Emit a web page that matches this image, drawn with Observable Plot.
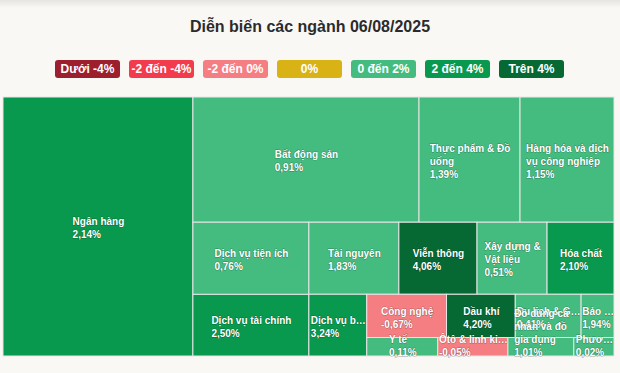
<!DOCTYPE html>
<html><head><meta charset="utf-8">
<script src="https://cdn.jsdelivr.net/npm/d3@7"></script>
<script src="https://cdn.jsdelivr.net/npm/@observablehq/plot@0.6"></script>
<style>
html,body{margin:0;padding:0;background:#faf8f5;}
body{width:620px;height:373px;position:relative;overflow:hidden;font-family:"Liberation Sans",Arial,Helvetica,sans-serif;}
#shade{position:absolute;left:0;top:0;width:620px;height:8px;background:linear-gradient(rgba(0,0,0,0.08),rgba(0,0,0,0));}
#title{position:absolute;left:0;top:17px;width:620px;text-align:center;font-size:16px;font-weight:bold;color:#2b2b2b;line-height:20px;}
#legend{position:absolute;left:55px;top:60px;display:flex;gap:9px;}
.lg{width:65px;height:18px;border-radius:3px;color:#fff;font-size:12px;font-weight:bold;text-align:center;line-height:18px;white-space:nowrap;}
#chart{position:absolute;left:0;top:90px;}
</style></head>
<body>
<div id="shade"></div>
<div id="title">Diễn biến các ngành 06/08/2025</div>
<div id="legend"></div>
<div id="chart"></div>
<script>
// Sectors (in drawing order), weights and daily change (%)
const nganh = [
  "Ngân hàng","Bất động sản","Thực phẩm & Đồ uống","Hàng hóa và dịch vụ công nghiệp",
  "Dịch vụ tiện ích","Dịch vụ tài chính","Tài nguyên","Viễn thông","Xây dựng & Vật liệu",
  "Hóa chất","Dịch\u00a0vụ\u00a0bán\u00a0lẻ","Công nghệ","Dầu khí","Du\u00a0lịch\u00a0&\u00a0Giải\u00a0trí",
  "Bảo\u00a0hiểm","Y tế","Ôtô\u00a0&\u00a0linh\u00a0kiện\u00a0phụ\u00a0tùng","Đồ dùng cá nhân và đồ gia dụng",
  "Phương\u00a0tiện\u00a0truyền\u00a0thông"
];
const tyTrong = [31.1,17.9,8.0,7.44,5.29,4.52,4.1,3.56,3.19,3.05,2.26,2.18,1.88,1.8,0.9,0.83,0.82,0.77,0.47];
const thayDoi = [2.14,0.91,1.39,1.15,0.76,2.50,1.83,4.06,0.51,2.10,3.24,-0.67,4.20,0.41,1.94,0.11,-0.05,1.01,0.02];

// Legend groups
const nhomNhan = ["Dưới -4%","-2 đến -4%","-2 đến 0%","0%","0 đến 2%","2 đến 4%","Trên 4%"];
const nhomMau  = ["#9d1e2c","#f23b4c","#f57e82","#d9b316","#44bc7f","#08994e","#066934"];

function nhomOf(c){
  if (c < -4) return 0;
  if (c < -2) return 1;
  if (c < 0) return 2;
  if (c === 0) return 3;
  if (c <= 2) return 4;
  if (c <= 4) return 5;
  return 6;
}

// legend
const lg = document.getElementById("legend");
nhomNhan.forEach((t,i)=>{
  const d = document.createElement("div");
  d.className = "lg"; d.style.background = nhomMau[i]; d.textContent = t;
  lg.appendChild(d);
});

// squarified layout with alternating direction
function squarified(values, W, H){
  const total = d3.sum(values);
  const out = [];
  const plot = {x:0, y:0};
  const g = {height:H, width:W, direction:0, total:0, nW:0, lW:0, nH:0, lH:0, elArr:[],
             lP:{total:0, lH:0, nH:0, lW:0, nW:0, nR:0, lR:0}};
  const ar = (w,h)=>Math.max(w/h, h/w);
  function add(el){
    g.lP.total = g.elArr[g.elArr.length-1];
    g.total += el;
    if (g.direction === 0){
      g.lW = g.nW; g.lP.lH = g.lP.total/g.lW; g.lP.lR = ar(g.lW, g.lP.lH);
      g.nW = g.total/g.height; g.lP.nH = g.lP.total/g.nW; g.lP.nR = ar(g.nW, g.lP.nH);
    } else {
      g.lH = g.nH; g.lP.lW = g.lP.total/g.lH; g.lP.lR = ar(g.lP.lW, g.lH);
      g.nH = g.total/g.width; g.lP.nW = g.lP.total/g.nH; g.lP.nR = ar(g.lP.nW, g.nH);
    }
    g.elArr.push(el);
  }
  function calc(last){
    let gW = g.lW, gH = g.lH, keep;
    if (last){ gW = g.nW; gH = g.nH; } else keep = g.elArr[g.elArr.length-1];
    const end = g.elArr.length-1;
    g.elArr.forEach((p,i)=>{
      if (last || i < end){
        let pW, pH;
        if (g.direction === 0){ pW = gW; pH = p/pW; } else { pH = gH; pW = p/pH; }
        out.push({x:plot.x, y:plot.y, w:pW, h:pH});
        if (g.direction === 0) plot.y += pH; else plot.x += pW;
      }
    });
    g.nW = 0; g.lW = 0; g.elArr = []; g.total = 0;
    if (g.direction === 0) g.width -= gW; else g.height -= gH;
    plot.y = H - g.height;
    plot.x = W - g.width;
    g.direction = 1 - g.direction;
    if (!last) add(keep);
  }
  values.forEach((v,i)=>{
    add(W*H*v/total);
    if (g.lP.nR > g.lP.lR) calc(false);
    if (i === values.length-1) calc(true);
  });
  return out;
}

const xRange = [3, 614], yRange = [7, 266];
const ratio = (xRange[1]-xRange[0])/(yRange[1]-yRange[0]);
const rects = squarified(tyTrong, 100*ratio, 100);
const fmt = v => v.toFixed(2).replace(".", ",") + "%";

const data = nganh.map((n,i)=>({
  name:n, pct:thayDoi[i], nhom:nhomNhan[nhomOf(thayDoi[i])],
  x1:rects[i].x/ratio, x2:(rects[i].x+rects[i].w)/ratio,
  y1:rects[i].y, y2:rects[i].y+rects[i].h
}));

// label layout
const sx = d3.scaleLinear([0,100], xRange), sy = d3.scaleLinear([0,100], yRange);
const ctx = document.createElement("canvas").getContext("2d");
ctx.font = "bold 10px 'Liberation Sans'";
const tw = s => ctx.measureText(s).width;
function fit(s, maxW){
  if (tw(s) <= maxW) return s;
  let k = s.length;
  while (k > 0 && tw(s.slice(0,k) + "\u2026") > maxW) k--;
  return s.slice(0,k) + "\u2026";
}
function wrap(text, maxW){
  const words = text.split(" "), lines = [];
  let cur = "";
  for (const w of words){
    const t = cur ? cur + " " + w : w;
    if (tw(t) <= maxW) cur = t; else { if (cur) lines.push(cur); cur = w; }
  }
  if (cur) lines.push(cur);
  return lines.map(l => fit(l, maxW));
}
const LH = 13;
const labels = [];
data.forEach(d=>{
  const px1 = sx(d.x1), px2 = sx(d.x2), py1 = sy(d.y1), py2 = sy(d.y2);
  const w = px2 - px1;
  const lines = wrap(d.name, w - 0.5).concat([fit(fmt(d.pct), w - 0.5)]);
  const bw = d3.max(lines, tw);
  const left = (px1+px2)/2 - bw/2;
  let top = (py1+py2)/2 - lines.length*LH/2 + 1.5;
  if (top + lines.length*LH > yRange[1] + 2.5) top = yRange[1] + 2.5 - lines.length*LH;
  lines.forEach((t,i)=>labels.push({text:t, x:sx.invert(left), y:sy.invert(top + LH*(i+0.5))}));
});

const chart = Plot.plot({
  width:620, height:283, margin:0,
  style:{background:"transparent", overflow:"visible"},
  x:{domain:[0,100], range:xRange, axis:null},
  y:{domain:[0,100], range:yRange, axis:null},
  color:{domain:nhomNhan, range:nhomMau},
  marks:[
    Plot.rect(data, {x1:"x1", x2:"x2", y1:"y1", y2:"y2", fill:"nhom", stroke:"#e6e6e6", strokeWidth:1}),
    Plot.text(labels, {x:"x", y:"y", text:"text", textAnchor:"start", fill:"white",
      fontSize:10, fontWeight:"bold", fontFamily:"'Liberation Sans', Arial, sans-serif",
      stroke:"black", strokeOpacity:0.3, strokeWidth:1})
  ]
});
document.getElementById("chart").appendChild(chart);
</script>
</body></html>
